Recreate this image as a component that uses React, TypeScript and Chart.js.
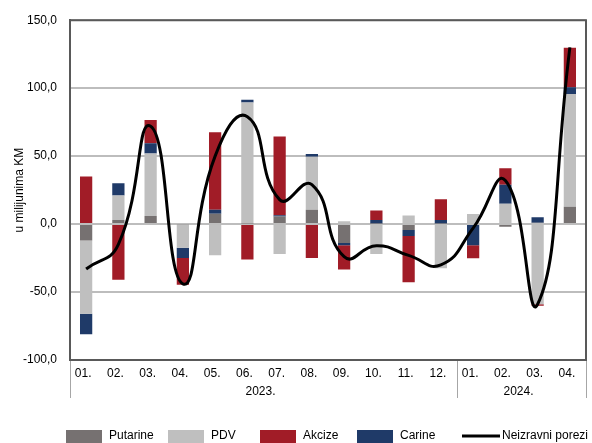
import React, { useEffect, useRef } from 'react';
import { Chart, registerables } from 'chart.js';

Chart.register(...registerables);

// ---- data ----
const months = ['01.', '02.', '03.', '04.', '05.', '06.', '07.', '08.', '09.', '10.', '11.', '12.', '01.', '02.', '03.', '04.'];
const years = ['2023.', '2024.'];
const yearSpans = [12, 4];
const putarine = [-12, 3, 6, -0.5, 7.6, 0.5, 5.5, 10.5, -14, 0.5, -4.4, 0.5, 0, -2, 1, 12.7];
const pdv = [-54, 18, 46, -17, -23, 89, -22, 39, 2, -22, 6.4, -32.5, 7.4, 15, -59, 83];
const carine = [-15, 9, 7.5, -7.5, 3, 2, 1, 2, -1.5, 2.5, -4.4, 2.5, -15.5, 14, 4, 5];
const akcize = [35, -41, 17, -19.6, 57, -26, 58, -25, -18, 7, -34, 15.3, -9.7, 12, -1, 29];
const neizravni = [-33, -15, 72, -44, 50, 79, 18, 29, -24, -16, -23, -30, -3, 32, -59, 130];
const yMin = -100;
const yMax = 150;
const yStep = 50;

const FONT = '"Liberation Sans", Arial, sans-serif';
const C_PUT = '#767171';
const C_PDV = '#bfbfbf';
const C_AKC = '#a11c27';
const C_CAR = '#1f3a68';
const C_AXIS = '#595959';
const C_SEP = '#a6a6a6';

const legendItems = [
  { label: 'Putarine', color: C_PUT, kind: 'box', x: 66 },
  { label: 'PDV', color: C_PDV, kind: 'box', x: 168 },
  { label: 'Akcize', color: C_AKC, kind: 'box', x: 260 },
  { label: 'Carine', color: C_CAR, kind: 'box', x: 357 },
  { label: 'Neizravni porezi', color: '#000000', kind: 'line', x: 462 },
];

const decorPlugin = {
  id: 'decor',
  afterDatasetsDraw(chart: any) {
    const { ctx, chartArea } = chart;
    const xs = chart.scales.x;
    ctx.save();
    // top & right border
    ctx.strokeStyle = C_AXIS;
    ctx.lineWidth = 2;
    ctx.beginPath();
    ctx.moveTo(chartArea.left, chartArea.top);
    ctx.lineTo(chartArea.right, chartArea.top);
    ctx.lineTo(chartArea.right, chartArea.bottom);
    ctx.stroke();
    // group separators and year labels
    const n = months.length;
    const cw = (xs.right - xs.left) / n;
    ctx.strokeStyle = C_SEP;
    ctx.lineWidth = 1;
    let idx = 0;
    const bounds = [0];
    yearSpans.forEach((s) => {
      idx += s;
      bounds.push(idx);
    });
    bounds.forEach((b) => {
      const x = Math.round(xs.left + b * cw) + 0.5;
      ctx.beginPath();
      ctx.moveTo(x, chartArea.bottom + 1);
      ctx.lineTo(x, chartArea.bottom + 38);
      ctx.stroke();
    });
    ctx.fillStyle = '#000';
    ctx.font = `12px ${FONT}`;
    ctx.textAlign = 'center';
    ctx.textBaseline = 'middle';
    years.forEach((y, i) => {
      const cx = xs.left + ((bounds[i] + bounds[i + 1]) / 2) * cw - 3;
      ctx.fillText(y, cx, chartArea.bottom + 32);
    });
    ctx.restore();
  },
  afterDraw(chart: any) {
    const { ctx } = chart;
    ctx.save();
    ctx.font = `12px ${FONT}`;
    ctx.textBaseline = 'middle';
    ctx.textAlign = 'left';
    const yc = 436;
    legendItems.forEach((it) => {
      if (it.kind === 'box') {
        ctx.fillStyle = it.color;
        ctx.fillRect(it.x, 430, 36, 13);
        ctx.fillStyle = '#000';
        ctx.fillText(it.label, it.x + 43, yc);
      } else {
        ctx.strokeStyle = it.color;
        ctx.lineWidth = 3;
        ctx.beginPath();
        ctx.moveTo(it.x, yc);
        ctx.lineTo(it.x + 38, yc);
        ctx.stroke();
        ctx.fillStyle = '#000';
        ctx.fillText(it.label, it.x + 40, yc);
      }
    });
    ctx.restore();
  },
};

export default function App() {
  const ref = useRef<HTMLCanvasElement>(null);
  useEffect(() => {
    if (!ref.current) return;
    const barDs = (label: string, data: number[], color: string) => ({
      type: 'bar' as const,
      label,
      data,
      backgroundColor: color,
      borderWidth: 0,
      barPercentage: 0.38,
      categoryPercentage: 1,
      stack: 'bars',
    });
    const chart = new Chart(ref.current, {
      type: 'bar',
      data: {
        labels: months,
        datasets: [
          barDs('Putarine', putarine, C_PUT),
          barDs('PDV', pdv, C_PDV),
          barDs('Carine', carine, C_CAR),
          barDs('Akcize', akcize, C_AKC),
          {
            type: 'line' as const,
            label: 'Neizravni porezi',
            data: neizravni,
            borderColor: '#000',
            borderWidth: 3,
            pointRadius: 0,
            tension: 0.5,
            fill: false,
            stack: 'line',
            order: -1,
          } as any,
        ],
      },
      options: {
        animation: false,
        responsive: true,
        maintainAspectRatio: false,
        layout: { padding: { left: 0, right: 6, top: 18, bottom: 43 } },
        plugins: { legend: { display: false }, tooltip: { enabled: false } },
        scales: {
          x: {
            stacked: true,
            grid: { display: false, drawTicks: false },
            border: { display: true, color: C_AXIS, width: 2 },
            ticks: {
              color: '#000',
              font: { family: FONT, size: 12 },
              padding: 6,
              labelOffset: -3,
              autoSkip: false,
              maxRotation: 0,
            },
            afterFit: (s: any) => {
              s.height = 40;
            },
          },
          y: {
            stacked: true,
            min: yMin,
            max: yMax,
            grid: { color: '#bdbdbd', lineWidth: 2, drawTicks: false },
            border: { display: true, color: C_AXIS, width: 2 },
            ticks: {
              stepSize: yStep,
              color: '#000',
              font: { family: FONT, size: 12 },
              padding: 13,
              callback: (v: any) => Number(v).toFixed(1).replace('.', ','),
            },
            title: {
              display: true,
              text: 'u milijunima KM',
              color: '#000',
              font: { family: FONT, size: 12 },
              padding: { top: 12, bottom: 0 },
            },
            afterFit: (s: any) => {
              s.width = 70;
            },
          },
        },
      },
      plugins: [decorPlugin],
    });
    return () => chart.destroy();
  }, []);
  return (
    <div style={{ position: 'fixed', left: 0, top: 0, width: 592, height: 443, background: '#fff' }}>
      <canvas ref={ref} />
    </div>
  );
}
